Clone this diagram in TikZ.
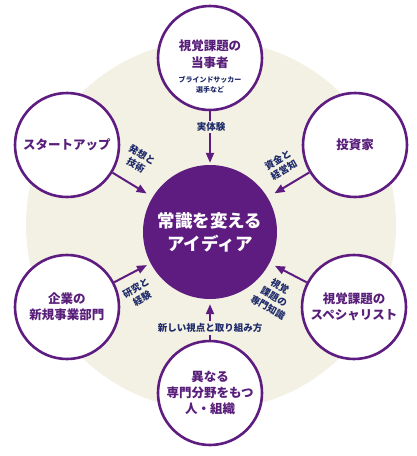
\documentclass[tikz,border=0pt]{standalone}
\usepackage{fontspec}
\setmainfont{Noto Sans CJK JP}
\usetikzlibrary{arrows.meta, positioning}
\definecolor{ipurple}{RGB}{94,28,128}
\definecolor{itext}{RGB}{88,30,122}
\definecolor{inavy}{RGB}{30,42,105}
\definecolor{ibeige}{RGB}{243,241,227}

\begin{document}
\begin{tikzpicture}[x=1pt,y=-1pt,
  actor/.style={circle,draw=ipurple,line width=2.6pt,fill=white,minimum size=104pt,inner sep=0pt,
    align=center,text=itext,font=\fontsize{12.5}{16}\selectfont\bfseries},
  flow/.style={-{Triangle[length=10pt,width=8pt]},ipurple,line width=2pt},
  tag/.style={text=inavy,align=center,inner sep=1pt,font=\fontsize{9.5}{12}\selectfont\bfseries}]
  \useasboundingbox (0,0) rectangle (417,456);
  \fill[ibeige] (211,225) circle (185pt);

  % centre
  \node[circle,fill=ipurple,minimum size=134pt,inner sep=0pt,text=white,align=center,
    font=\fontsize{17.5}{23}\selectfont\bfseries] (idea) at (210,232) {常識を変える\\アイディア};

  % outer circles
  \node[actor] (user)    at (210,58)  {};
  \node[text=itext,align=center,font=\fontsize{12.5}{17}\selectfont\bfseries] (usertxt) at (210,54) {視覚課題の\\当事者};
  \node[text=inavy,align=center,font=\fontsize{7}{10}\selectfont\bfseries] (usersub) at (210,85) {ブラインドサッカー\\選手など};
  \node[actor] (startup) at (67,145)  {スタートアップ};
  \node[actor] (invest)  at (355,145) {投資家};
  \node[actor] (corp)    at (67,307)  {企業の\\新規事業部門};
  \node[actor] (expert)  at (354,307) {視覚課題の\\スペシャリスト};
  \node[actor] (team)    at (210,393) {異なる\\専門分野をもつ\\人・組織};

  % arrows
  \draw[flow,shorten >=2pt] (user) -- (idea);
  \draw[flow,shorten >=7pt] (startup) -- (idea);
  \draw[flow,shorten >=8pt] (invest) -- (idea);
  \draw[flow,shorten >=4pt] (corp) -- (idea);
  \draw[flow,shorten >=6pt] (expert) -- (idea);
  \draw[flow,shorten >=5pt] (team) -- (idea);

  % labels
  \node[tag,fill=ibeige] (lbluser) at (211,127) {実体験};
  \node[tag,rotate=-30] (lblstart) at (139,160) {発想と\\技術};
  \node[tag,rotate=30] (lblinv) at (281,165) {資金と\\経営知};
  \node[tag,rotate=30] (lblcorp) at (139,293) {研究と\\経験};
  \node[tag,rotate=-30] (lblexp) at (274,297) {視覚\\課題の\\専門知識};
  \node[tag,fill=ibeige,inner sep=2pt] (lblteam) at (210,328) {新しい視点と取り組み方};
\end{tikzpicture}
\end{document}
